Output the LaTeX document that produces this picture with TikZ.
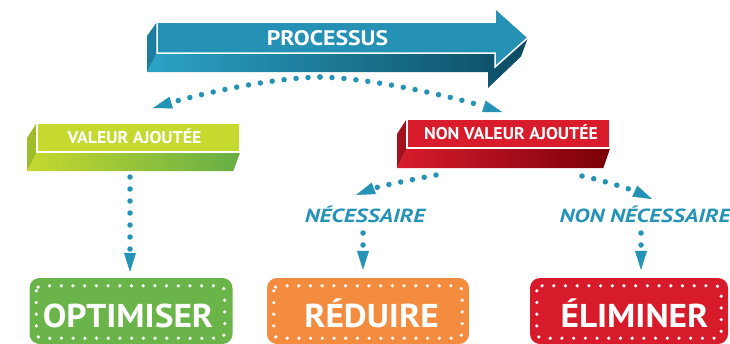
\documentclass[tikz,border=0pt]{standalone}
\usepackage{fontspec}
\setmainfont{PT Sans}
\newfontfamily\fontProc[FakeStretch=1.13]{PT Sans}
\newfontfamily\fontFace[FakeStretch=1.05]{PT Sans}
\newfontfamily\fontBranch[FakeStretch=1.23]{PT Sans}
\newfontfamily\fontResult[FakeStretch=1.07]{PT Sans}
\usetikzlibrary{arrows.meta}
\definecolor{tealfront}{HTML}{2592B5}
\definecolor{tealA}{HTML}{2CA3C6}
\definecolor{tealB}{HTML}{0B4B62}
\definecolor{tealside}{HTML}{1C7E9E}
\definecolor{dotblue}{HTML}{2593B6}
\definecolor{limefront}{HTML}{C6D92E}
\definecolor{limeside}{HTML}{9DBB2A}
\definecolor{limeB}{HTML}{66AE46}
\definecolor{redfront}{HTML}{D81C2C}
\definecolor{redside}{HTML}{A5101D}
\definecolor{redB}{HTML}{7A0008}
\definecolor{optgreen}{HTML}{6AB44A}
\definecolor{redorange}{HTML}{F48C40}
\definecolor{elimred}{HTML}{D81B2B}
\tikzset{
  face/.style={draw=white, line width=1.5pt},
  facetext/.style={inner sep=0pt, text=white, font=\fontFace\bfseries\fontsize{17}{17}\selectfont, text height=11.9pt, text depth=0pt},
  dotline/.style={draw=dotblue, line width=5.5pt, dash pattern=on 0pt off 12pt, line cap=round,
     -{Triangle[length=19pt,width=12pt,line width=0.4pt]}},
  resultbox/.style={rounded corners=10pt, minimum width=#1, minimum height=66pt, inner sep=0pt},
  whitedots/.style={draw=white, line width=3.6pt, dash pattern=on 0pt off 11.7pt, line cap=round, rounded corners=5pt},
  resulttext/.style={inner sep=0pt, text=white, font=\fontResult\bfseries\fontsize{33}{33}\selectfont, text height=23pt, text depth=0pt},
  branchlabel/.style={inner sep=0pt, text=dotblue, font=\fontBranch\bfseries\itshape\fontsize{19}{19}\selectfont, text height=13.3pt, text depth=0pt}
}
\begin{document}
\begin{tikzpicture}[x=1pt,y=-1pt]
\useasboundingbox (0,0) rectangle (730,343);
% main arrow
\shade[left color=tealA, right color=tealB] (157,53) -- (495,53) -- (495,67) -- (528,37.5) -- (521,56.5) -- (488,88) -- (488,72) -- (147,72) -- cycle;
\fill[tealside] (157,22) -- (147,36) -- (147,72) -- (157,53) -- cycle;
\filldraw[fill=tealfront, face] (157,22) -- (495,22) -- (495,8) -- (528,37.5) -- (495,67) -- (495,53) -- (157,53) -- cycle;
\node[facetext, font=\fontProc\bfseries\fontsize{21}{21}\selectfont, text height=14.7pt] (proc) at (327.5,38) {PROCESSUS};
% valeur ajoutee
\node[minimum width=203pt, minimum height=29pt, inner sep=0pt] (va) at (138.5,137.5) {};
\shade[left color=limefront, right color=limeB] (va.south west) -- (va.south east) -- ++(-7,19) -- (27,171) -- cycle;
\fill[limeside] (va.north west) -- (27,138) -- (27,171) -- (va.south west) -- cycle;
\filldraw[fill=limefront, face] (va.north west) rectangle (va.south east);
\node[facetext] (vaT) at (134.5,137.5) {VALEUR AJOUTÉE};
% non valeur ajoutee
\node[minimum width=203pt, minimum height=29pt, inner sep=0pt] (nva) at (508.5,133.5) {};
\shade[left color=redfront, right color=redB] (nva.south west) -- (nva.south east) -- ++(-7,20) -- (397,168) -- cycle;
\fill[redside] (nva.north west) -- (397,134) -- (397,168) -- (nva.south west) -- cycle;
\filldraw[fill=redfront, face] (nva.north west) rectangle (nva.south east);
\node[facetext] (nvaT) at (511,133.5) {NON VALEUR AJOUTÉE};
% branch labels
\node[branchlabel] (nec) at (365,216) {NÉCESSAIRE};
\node[branchlabel] (nonnec) at (645,216) {NON NÉCESSAIRE};
% result boxes
\node[resultbox=203pt, fill=optgreen] (opt) at (131,311) {};
\draw[whitedots] ([shift={(7,8)}]opt.north west) rectangle ([shift={(-8,-6)}]opt.south east);
\node[resulttext] (optT) at (128,315.5) {OPTIMISER};
\node[resultbox=202pt, fill=redorange] (red) at (368,311) {};
\draw[whitedots] ([shift={(7,8)}]red.north west) rectangle ([shift={(-7,-6)}]red.south east);
\node[resulttext] (redT) at (371.5,315.5) {RÉDUIRE};
\node[resultbox=198pt, fill=elimred] (elim) at (629,311) {};
\draw[whitedots] ([shift={(7,8)}]elim.north west) rectangle ([shift={(-7,-6)}]elim.south east);
\node[resulttext] (elimT) at (634.5,315.5) {ÉLIMINER};
% connectors
\coordinate (top) at (320,77);
\coordinate (vaIn) at (153,108);
\coordinate (nvaIn) at (502,112);
\draw[dotline] (top) .. controls (270,78) and (200,94) .. (vaIn);
\draw[dotline] (top) .. controls (370,78) and (450,96) .. (nvaIn);
\coordinate (vaOut) at (130,177);
\draw[dotline] (vaOut) -- ([yshift=6pt]opt.north-|vaOut);
\coordinate (nvaL) at (436,175);
\coordinate (necIn) at (356,195);
\draw[dotline] (nvaL) .. controls (410,180) and (380,186) .. (necIn);
\coordinate (nvaR) at (582,176);
\coordinate (nonnecIn) at (652,199);
\draw[dotline] (nvaR) .. controls (605,181) and (630,189) .. (nonnecIn);
\coordinate (necOut) at (363,233);
\draw[dotline] (necOut) -- ([yshift=8pt]red.north-|necOut);
\coordinate (nonnecOut) at (641,233);
\draw[dotline] (nonnecOut) -- ([yshift=8pt]elim.north-|nonnecOut);
\end{tikzpicture}
\end{document}
